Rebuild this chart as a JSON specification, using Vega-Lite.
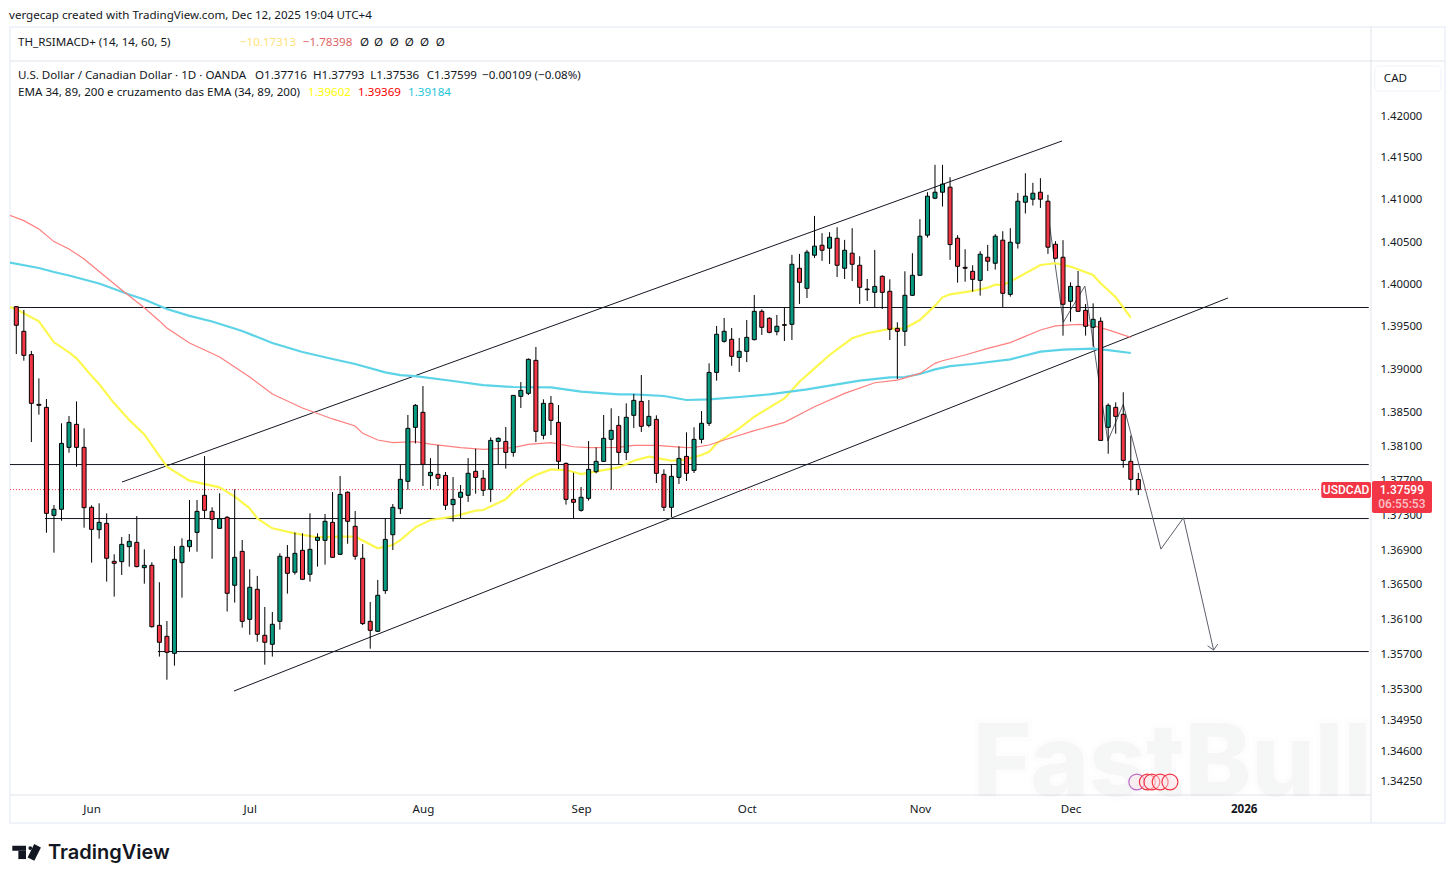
{
"$schema":"https://vega.github.io/schema/vega-lite/v6.json",
"autosize":"none","width":1361,"height":734,
"padding":{"left":10,"top":61,"right":84,"bottom":88},
"background":"#ffffff",
"title":{"text":"vergecap created with TradingView.com, Dec 12, 2025 19:04 UTC+4","anchor":"start","frame":"group","offset":4,"fontSize":11.6,"fontWeight":"normal","font":"Noto Sans","color":"#131722","dx":-1},
"config":{"view":{"stroke":null},"font":"Noto Sans"},
"datasets":{
"frame":[
{"part":"header","x0":-0.837,"x1":189.73,"y0":1.4266,"y1":1.4266},
{"part":"footer","x0":-0.837,"x1":179.9,"y0":1.34103,"y1":1.34103},
{"part":"scale","x0":179.9,"x1":179.9,"y0":1.33787,"y1":1.43069}
],
"outer":[{"x0":-0.837,"x1":189.73,"y0":1.33787,"y1":1.43069}],
"drawings":[
{"line":"upper","bar":14.04,"price":1.37687},{"line":"upper","bar":138.87,"price":1.41702},
{"line":"lower","bar":28.9,"price":1.35283},{"line":"lower","bar":160.9,"price":1.39839},
{"line":"h1","bar":-0.84,"price":1.39727},{"line":"h1","bar":179.6,"price":1.39727},
{"line":"h2","bar":-0.84,"price":1.3789},{"line":"h2","bar":179.6,"price":1.3789},
{"line":"h3","bar":3.8,"price":1.37264},{"line":"h3","bar":179.6,"price":1.37264},
{"line":"h4","bar":18.8,"price":1.35734},{"line":"h4","bar":179.6,"price":1.35734}
],
"forecast":[
{"line":"path","bar":137.05,"price":1.40801},{"line":"path","bar":139.04,"price":1.39553},{"line":"path","bar":141.9,"price":1.3998},{"line":"path","bar":144.95,"price":1.38164},{"line":"path","bar":147,"price":1.38592},{"line":"path","bar":152,"price":1.36911},{"line":"path","bar":155,"price":1.37273},{"line":"path","bar":159,"price":1.35751},
{"line":"head","bar":158.2,"price":1.358},{"line":"head","bar":159,"price":1.35751},{"line":"head","bar":159.55,"price":1.35819}
],
"last":[{"bar0":-0.84,"bar1":179.9,"price":1.37599}],
"ema":[
{"ema":"34","bar":-1,"price":1.39737},{"ema":"34","bar":0,"price":1.39706},{"ema":"34","bar":3,"price":1.39565},{"ema":"34","bar":5,"price":1.39318},{"ema":"34","bar":7,"price":1.392},{"ema":"34","bar":8,"price":1.39129},{"ema":"34","bar":10,"price":1.38922},{"ema":"34","bar":11,"price":1.38829},{"ema":"34","bar":13,"price":1.38603},{"ema":"34","bar":15,"price":1.38409},{"ema":"34","bar":17,"price":1.38241},{"ema":"34","bar":20,"price":1.37865},{"ema":"34","bar":23,"price":1.37703},{"ema":"34","bar":27,"price":1.37625},{"ema":"34","bar":29,"price":1.37517},{"ema":"34","bar":31,"price":1.37382},{"ema":"34","bar":32,"price":1.37266},{"ema":"34","bar":34,"price":1.37151},{"ema":"34","bar":37,"price":1.37093},{"ema":"34","bar":40,"price":1.37047},{"ema":"34","bar":43,"price":1.37054},{"ema":"34","bar":45,"price":1.37054},{"ema":"34","bar":48,"price":1.3692},{"ema":"34","bar":50,"price":1.36958},{"ema":"34","bar":51,"price":1.37015},{"ema":"34","bar":53,"price":1.37162},{"ema":"34","bar":55,"price":1.37247},{"ema":"34","bar":58,"price":1.37286},{"ema":"34","bar":61,"price":1.37355},{"ema":"34","bar":62,"price":1.37363},{"ema":"34","bar":65,"price":1.37486},{"ema":"34","bar":66,"price":1.37575},{"ema":"34","bar":68,"price":1.37718},{"ema":"34","bar":69,"price":1.37768},{"ema":"34","bar":71,"price":1.37834},{"ema":"34","bar":73,"price":1.37826},{"ema":"34","bar":75,"price":1.3778},{"ema":"34","bar":78,"price":1.37826},{"ema":"34","bar":80,"price":1.37857},{"ema":"34","bar":82,"price":1.37934},{"ema":"34","bar":84,"price":1.37981},{"ema":"34","bar":86,"price":1.3795},{"ema":"34","bar":87,"price":1.37934},{"ema":"34","bar":89,"price":1.3795},{"ema":"34","bar":91,"price":1.38},{"ema":"34","bar":92,"price":1.38039},{"ema":"34","bar":93,"price":1.38136},{"ema":"34","bar":96,"price":1.38311},{"ema":"34","bar":98,"price":1.38447},{"ema":"34","bar":102,"price":1.38661},{"ema":"34","bar":104,"price":1.38856},{"ema":"34","bar":106,"price":1.39012},{"ema":"34","bar":108,"price":1.39169},{"ema":"34","bar":111,"price":1.39365},{"ema":"34","bar":113,"price":1.39424},{"ema":"34","bar":116,"price":1.39475},{"ema":"34","bar":118,"price":1.39482},{"ema":"34","bar":120,"price":1.3958},{"ema":"34","bar":122,"price":1.39749},{"ema":"34","bar":123,"price":1.39847},{"ema":"34","bar":124,"price":1.39882},{"ema":"34","bar":127,"price":1.39922},{"ema":"34","bar":129,"price":1.39961},{"ema":"34","bar":130,"price":1.39996},{"ema":"34","bar":131,"price":1.39992},{"ema":"34","bar":132,"price":1.40032},{"ema":"34","bar":136,"price":1.40229},{"ema":"34","bar":138,"price":1.40249},{"ema":"34","bar":140,"price":1.4021},{"ema":"34","bar":143,"price":1.40111},{"ema":"34","bar":144,"price":1.40012},{"ema":"34","bar":146,"price":1.39847},{"ema":"34","bar":148,"price":1.39608},
{"ema":"89","bar":-1,"price":1.40821},{"ema":"89","bar":1,"price":1.40754},{"ema":"89","bar":3,"price":1.40655},{"ema":"89","bar":5,"price":1.40505},{"ema":"89","bar":7,"price":1.40418},{"ema":"89","bar":9,"price":1.403},{"ema":"89","bar":11,"price":1.40152},{"ema":"89","bar":14,"price":1.39933},{"ema":"89","bar":17,"price":1.39725},{"ema":"89","bar":19,"price":1.39569},{"ema":"89","bar":20,"price":1.39486},{"ema":"89","bar":23,"price":1.3931},{"ema":"89","bar":27,"price":1.39146},{"ema":"89","bar":31,"price":1.38911},{"ema":"89","bar":34,"price":1.38712},{"ema":"89","bar":38,"price":1.38549},{"ema":"89","bar":42,"price":1.38421},{"ema":"89","bar":45,"price":1.38339},{"ema":"89","bar":46,"price":1.38253},{"ema":"89","bar":48,"price":1.38175},{"ema":"89","bar":50,"price":1.38144},{"ema":"89","bar":53,"price":1.38156},{"ema":"89","bar":55,"price":1.38128},{"ema":"89","bar":59,"price":1.38086},{"ema":"89","bar":62,"price":1.38066},{"ema":"89","bar":66,"price":1.38086},{"ema":"89","bar":68,"price":1.38124},{"ema":"89","bar":71,"price":1.38144},{"ema":"89","bar":74,"price":1.38097},{"ema":"89","bar":76,"price":1.38086},{"ema":"89","bar":80,"price":1.38089},{"ema":"89","bar":82,"price":1.38113},{"ema":"89","bar":85,"price":1.38113},{"ema":"89","bar":89,"price":1.38086},{"ema":"89","bar":90,"price":1.38089},{"ema":"89","bar":92,"price":1.38117},{"ema":"89","bar":94,"price":1.38175},{"ema":"89","bar":98,"price":1.38284},{"ema":"89","bar":102,"price":1.38381},{"ema":"89","bar":106,"price":1.38564},{"ema":"89","bar":110,"price":1.3872},{"ema":"89","bar":114,"price":1.38844},{"ema":"89","bar":117,"price":1.38875},{"ema":"89","bar":120,"price":1.38953},{"ema":"89","bar":122,"price":1.39071},{"ema":"89","bar":123,"price":1.39102},{"ema":"89","bar":126,"price":1.39169},{"ema":"89","bar":129,"price":1.39247},{"ema":"89","bar":132,"price":1.39314},{"ema":"89","bar":136,"price":1.39463},{"ema":"89","bar":138,"price":1.3951},{"ema":"89","bar":141,"price":1.39529},{"ema":"89","bar":143,"price":1.39514},{"ema":"89","bar":145,"price":1.39463},{"ema":"89","bar":148,"price":1.39376},
{"ema":"200","bar":-1,"price":1.40258},{"ema":"200","bar":3,"price":1.40193},{"ema":"200","bar":5,"price":1.40146},{"ema":"200","bar":7,"price":1.40104},{"ema":"200","bar":11,"price":1.4001},{"ema":"200","bar":15,"price":1.3988},{"ema":"200","bar":17,"price":1.39821},{"ema":"200","bar":20,"price":1.3971},{"ema":"200","bar":23,"price":1.39628},{"ema":"200","bar":26,"price":1.39563},{"ema":"200","bar":30,"price":1.39451},{"ema":"200","bar":34,"price":1.3931},{"ema":"200","bar":38,"price":1.39204},{"ema":"200","bar":42,"price":1.39122},{"ema":"200","bar":45,"price":1.39063},{"ema":"200","bar":49,"price":1.38965},{"ema":"200","bar":51,"price":1.38934},{"ema":"200","bar":53,"price":1.38922},{"ema":"200","bar":58,"price":1.38864},{"ema":"200","bar":62,"price":1.38817},{"ema":"200","bar":66,"price":1.38794},{"ema":"200","bar":71,"price":1.3879},{"ema":"200","bar":75,"price":1.38739},{"ema":"200","bar":80,"price":1.38708},{"ema":"200","bar":82,"price":1.38708},{"ema":"200","bar":86,"price":1.38689},{"ema":"200","bar":89,"price":1.38642},{"ema":"200","bar":92,"price":1.3865},{"ema":"200","bar":96,"price":1.38677},{"ema":"200","bar":100,"price":1.38708},{"ema":"200","bar":105,"price":1.38767},{"ema":"200","bar":112,"price":1.38868},{"ema":"200","bar":116,"price":1.38907},{"ema":"200","bar":118,"price":1.38911},{"ema":"200","bar":120,"price":1.38946},{"ema":"200","bar":122,"price":1.39},{"ema":"200","bar":124,"price":1.39039},{"ema":"200","bar":127,"price":1.39063},{"ema":"200","bar":132,"price":1.39118},{"ema":"200","bar":136,"price":1.39208},{"ema":"200","bar":139,"price":1.39231},{"ema":"200","bar":143,"price":1.39243},{"ema":"200","bar":145,"price":1.39227},{"ema":"200","bar":148,"price":1.39192}
],
"candles":[
{"bar":0,"open":1.39737,"high":1.39745,"low":1.3918,"close":1.39518},
{"bar":1,"open":1.39447,"high":1.39698,"low":1.39102,"close":1.39165},
{"bar":2,"open":1.39173,"high":1.39216,"low":1.38152,"close":1.38603},
{"bar":3,"open":1.38591,"high":1.38895,"low":1.38471,"close":1.3858},
{"bar":4,"open":1.38556,"high":1.38654,"low":1.371,"close":1.37324},
{"bar":5,"open":1.37301,"high":1.37421,"low":1.3687,"close":1.37371},
{"bar":6,"open":1.37371,"high":1.3837,"low":1.37239,"close":1.38136},
{"bar":7,"open":1.3809,"high":1.38455,"low":1.38027,"close":1.38381},
{"bar":8,"open":1.38358,"high":1.38626,"low":1.37865,"close":1.3809},
{"bar":9,"open":1.3809,"high":1.38311,"low":1.37158,"close":1.3739},
{"bar":10,"open":1.37394,"high":1.37417,"low":1.36755,"close":1.37139},
{"bar":11,"open":1.37135,"high":1.3744,"low":1.37031,"close":1.3722},
{"bar":12,"open":1.37208,"high":1.37324,"low":1.36536,"close":1.36805},
{"bar":13,"open":1.3677,"high":1.36851,"low":1.36364,"close":1.36747},
{"bar":14,"open":1.36766,"high":1.3705,"low":1.36613,"close":1.36966},
{"bar":15,"open":1.36939,"high":1.37085,"low":1.36709,"close":1.37},
{"bar":16,"open":1.36989,"high":1.37293,"low":1.36701,"close":1.36709},
{"bar":17,"open":1.36697,"high":1.36908,"low":1.36513,"close":1.36724},
{"bar":18,"open":1.36724,"high":1.36759,"low":1.36008,"close":1.36019},
{"bar":19,"open":1.36034,"high":1.36529,"low":1.35676,"close":1.3584},
{"bar":20,"open":1.35908,"high":1.36084,"low":1.35412,"close":1.35725},
{"bar":21,"open":1.35714,"high":1.36946,"low":1.35573,"close":1.36793},
{"bar":22,"open":1.36755,"high":1.37035,"low":1.36352,"close":1.36943},
{"bar":23,"open":1.36939,"high":1.37479,"low":1.36881,"close":1.37012},
{"bar":24,"open":1.37104,"high":1.37479,"low":1.36881,"close":1.37347},
{"bar":25,"open":1.37533,"high":1.37988,"low":1.37266,"close":1.37359},
{"bar":26,"open":1.37347,"high":1.37394,"low":1.368,"close":1.37255},
{"bar":27,"open":1.37151,"high":1.37556,"low":1.37151,"close":1.37263},
{"bar":28,"open":1.37278,"high":1.37293,"low":1.36192,"close":1.36402},
{"bar":29,"open":1.36494,"high":1.37602,"low":1.36295,"close":1.36816},
{"bar":30,"open":1.36885,"high":1.37016,"low":1.36008,"close":1.3608},
{"bar":31,"open":1.36103,"high":1.36678,"low":1.35927,"close":1.36471},
{"bar":32,"open":1.36448,"high":1.36602,"low":1.35847,"close":1.35931},
{"bar":33,"open":1.3592,"high":1.36245,"low":1.35584,"close":1.3584},
{"bar":34,"open":1.35817,"high":1.36188,"low":1.35676,"close":1.36046},
{"bar":35,"open":1.3608,"high":1.36862,"low":1.35985,"close":1.36828},
{"bar":36,"open":1.36816,"high":1.36958,"low":1.36398,"close":1.36632},
{"bar":37,"open":1.36644,"high":1.37104,"low":1.36617,"close":1.36862},
{"bar":38,"open":1.36897,"high":1.37093,"low":1.36559,"close":1.36563},
{"bar":39,"open":1.36621,"high":1.37324,"low":1.36536,"close":1.36908},
{"bar":40,"open":1.37012,"high":1.37093,"low":1.36709,"close":1.37047},
{"bar":41,"open":1.37012,"high":1.37317,"low":1.36732,"close":1.37232},
{"bar":42,"open":1.3722,"high":1.37571,"low":1.36808,"close":1.36816},
{"bar":43,"open":1.36851,"high":1.37757,"low":1.36843,"close":1.37544},
{"bar":44,"open":1.37568,"high":1.37579,"low":1.36973,"close":1.37232},
{"bar":45,"open":1.37174,"high":1.37351,"low":1.36789,"close":1.36828},
{"bar":46,"open":1.36805,"high":1.36969,"low":1.36038,"close":1.36054},
{"bar":47,"open":1.3608,"high":1.36303,"low":1.35767,"close":1.35977},
{"bar":48,"open":1.35966,"high":1.36556,"low":1.35958,"close":1.36379},
{"bar":49,"open":1.36433,"high":1.37266,"low":1.36395,"close":1.37023},
{"bar":50,"open":1.37077,"high":1.37432,"low":1.369,"close":1.37394},
{"bar":51,"open":1.37378,"high":1.37892,"low":1.37317,"close":1.37718},
{"bar":52,"open":1.37695,"high":1.38467,"low":1.37598,"close":1.38311},
{"bar":53,"open":1.38323,"high":1.38595,"low":1.38136,"close":1.3858},
{"bar":54,"open":1.38498,"high":1.38805,"low":1.37641,"close":1.37892},
{"bar":55,"open":1.37761,"high":1.37965,"low":1.37602,"close":1.37799},
{"bar":56,"open":1.37776,"high":1.38117,"low":1.37641,"close":1.3773},
{"bar":57,"open":1.37764,"high":1.37803,"low":1.37363,"close":1.37417},
{"bar":58,"open":1.37425,"high":1.37745,"low":1.37228,"close":1.37486},
{"bar":59,"open":1.3751,"high":1.37653,"low":1.37266,"close":1.37568},
{"bar":60,"open":1.37533,"high":1.37965,"low":1.37456,"close":1.37788},
{"bar":61,"open":1.37811,"high":1.38074,"low":1.37552,"close":1.37741},
{"bar":62,"open":1.3773,"high":1.37826,"low":1.37525,"close":1.37591},
{"bar":63,"open":1.37602,"high":1.38206,"low":1.37456,"close":1.38171},
{"bar":64,"open":1.38159,"high":1.38206,"low":1.37892,"close":1.38195},
{"bar":65,"open":1.38159,"high":1.38327,"low":1.37842,"close":1.38031},
{"bar":66,"open":1.38031,"high":1.387,"low":1.37981,"close":1.38696},
{"bar":67,"open":1.38685,"high":1.38852,"low":1.38549,"close":1.38755},
{"bar":68,"open":1.3872,"high":1.39129,"low":1.387,"close":1.39118},
{"bar":69,"open":1.39106,"high":1.39263,"low":1.38152,"close":1.38276},
{"bar":70,"open":1.3823,"high":1.3865,"low":1.38183,"close":1.38603},
{"bar":71,"open":1.38603,"high":1.38689,"low":1.38233,"close":1.38405},
{"bar":72,"open":1.38381,"high":1.38584,"low":1.37838,"close":1.37927},
{"bar":73,"open":1.37903,"high":1.37915,"low":1.37425,"close":1.37486},
{"bar":74,"open":1.37486,"high":1.37795,"low":1.37266,"close":1.37452},
{"bar":75,"open":1.37359,"high":1.37629,"low":1.37344,"close":1.3751},
{"bar":76,"open":1.37498,"high":1.38163,"low":1.37471,"close":1.37834},
{"bar":77,"open":1.37807,"high":1.38089,"low":1.37788,"close":1.37927},
{"bar":78,"open":1.37927,"high":1.38467,"low":1.37923,"close":1.38195},
{"bar":79,"open":1.38183,"high":1.38545,"low":1.37598,"close":1.38288},
{"bar":80,"open":1.38346,"high":1.38455,"low":1.37892,"close":1.38031},
{"bar":81,"open":1.38031,"high":1.38603,"low":1.37942,"close":1.3844},
{"bar":82,"open":1.38463,"high":1.38712,"low":1.38315,"close":1.38638},
{"bar":83,"open":1.38626,"high":1.38934,"low":1.38269,"close":1.38335},
{"bar":84,"open":1.38346,"high":1.38642,"low":1.38323,"close":1.38451},
{"bar":85,"open":1.38416,"high":1.38463,"low":1.37676,"close":1.37788},
{"bar":86,"open":1.37776,"high":1.37834,"low":1.37351,"close":1.37394},
{"bar":87,"open":1.37394,"high":1.37892,"low":1.37282,"close":1.37753},
{"bar":88,"open":1.37741,"high":1.38101,"low":1.37664,"close":1.37961},
{"bar":89,"open":1.37985,"high":1.38265,"low":1.37699,"close":1.37788},
{"bar":90,"open":1.37822,"high":1.38323,"low":1.37792,"close":1.38183},
{"bar":91,"open":1.38183,"high":1.38513,"low":1.38136,"close":1.3837},
{"bar":92,"open":1.3837,"high":1.39071,"low":1.38339,"close":1.38965},
{"bar":93,"open":1.38965,"high":1.3951,"low":1.38868,"close":1.39412},
{"bar":94,"open":1.39329,"high":1.39604,"low":1.39314,"close":1.39447},
{"bar":95,"open":1.39353,"high":1.39486,"low":1.39043,"close":1.39153},
{"bar":96,"open":1.39141,"high":1.39369,"low":1.38969,"close":1.39212},
{"bar":97,"open":1.39212,"high":1.3958,"low":1.39086,"close":1.39376},
{"bar":98,"open":1.39349,"high":1.39875,"low":1.39341,"close":1.39682},
{"bar":99,"open":1.39682,"high":1.39706,"low":1.39404,"close":1.39494},
{"bar":100,"open":1.396,"high":1.39612,"low":1.39424,"close":1.39435},
{"bar":101,"open":1.39443,"high":1.39639,"low":1.394,"close":1.39506},
{"bar":102,"open":1.39525,"high":1.39729,"low":1.39333,"close":1.39518},
{"bar":103,"open":1.39529,"high":1.40348,"low":1.39345,"close":1.40237},
{"bar":104,"open":1.4019,"high":1.4036,"low":1.39769,"close":1.40024},
{"bar":105,"open":1.39953,"high":1.40407,"low":1.39839,"close":1.4038},
{"bar":106,"open":1.40344,"high":1.4081,"low":1.40312,"close":1.40451},
{"bar":107,"open":1.40462,"high":1.40605,"low":1.40277,"close":1.40403},
{"bar":108,"open":1.40427,"high":1.40617,"low":1.40241,"close":1.40557},
{"bar":109,"open":1.40545,"high":1.40676,"low":1.40087,"close":1.40225},
{"bar":110,"open":1.4019,"high":1.40526,"low":1.40063,"close":1.40403},
{"bar":111,"open":1.40368,"high":1.40664,"low":1.4004,"close":1.40237},
{"bar":112,"open":1.40225,"high":1.40332,"low":1.39769,"close":1.39965},
{"bar":113,"open":1.39945,"high":1.40063,"low":1.39804,"close":1.39937},
{"bar":114,"open":1.39906,"high":1.40407,"low":1.39729,"close":1.39976},
{"bar":115,"open":1.40095,"high":1.40107,"low":1.3971,"close":1.39906},
{"bar":116,"open":1.39918,"high":1.40059,"low":1.39345,"close":1.39471},
{"bar":117,"open":1.39482,"high":1.39553,"low":1.38887,"close":1.39447},
{"bar":118,"open":1.39447,"high":1.40154,"low":1.39275,"close":1.39871},
{"bar":119,"open":1.39871,"high":1.40368,"low":1.39863,"close":1.40107},
{"bar":120,"open":1.40107,"high":1.40771,"low":1.40103,"close":1.40569},
{"bar":121,"open":1.40581,"high":1.41091,"low":1.40553,"close":1.41044},
{"bar":122,"open":1.4102,"high":1.41417,"low":1.41008,"close":1.41091},
{"bar":123,"open":1.41091,"high":1.41417,"low":1.40921,"close":1.41187},
{"bar":124,"open":1.41151,"high":1.4127,"low":1.40289,"close":1.4047},
{"bar":125,"open":1.40545,"high":1.40581,"low":1.4002,"close":1.40213},
{"bar":126,"open":1.40201,"high":1.40415,"low":1.40031,"close":1.4019},
{"bar":127,"open":1.40154,"high":1.40225,"low":1.39914,"close":1.40059},
{"bar":128,"open":1.40047,"high":1.40391,"low":1.39867,"close":1.40356},
{"bar":129,"open":1.4032,"high":1.40466,"low":1.40158,"close":1.40273},
{"bar":130,"open":1.40249,"high":1.40593,"low":1.40174,"close":1.40569},
{"bar":131,"open":1.40522,"high":1.40628,"low":1.39733,"close":1.39894},
{"bar":132,"open":1.39882,"high":1.40664,"low":1.39855,"close":1.40498},
{"bar":133,"open":1.40486,"high":1.41083,"low":1.40423,"close":1.40984},
{"bar":134,"open":1.40972,"high":1.41317,"low":1.40838,"close":1.41044},
{"bar":135,"open":1.41008,"high":1.41203,"low":1.40933,"close":1.41079},
{"bar":136,"open":1.41091,"high":1.41258,"low":1.40905,"close":1.41008},
{"bar":137,"open":1.40984,"high":1.4106,"low":1.4036,"close":1.40439},
{"bar":138,"open":1.40474,"high":1.4051,"low":1.40296,"close":1.40308},
{"bar":139,"open":1.4032,"high":1.40522,"low":1.39396,"close":1.39765},
{"bar":140,"open":1.398,"high":1.40024,"low":1.39561,"close":1.39976},
{"bar":141,"open":1.39976,"high":1.40158,"low":1.39678,"close":1.39682},
{"bar":142,"open":1.39694,"high":1.39769,"low":1.39396,"close":1.39506},
{"bar":143,"open":1.39494,"high":1.39776,"low":1.39267,"close":1.39588},
{"bar":144,"open":1.39565,"high":1.39612,"low":1.38167,"close":1.38171},
{"bar":145,"open":1.38323,"high":1.38603,"low":1.38016,"close":1.3858},
{"bar":146,"open":1.38556,"high":1.38615,"low":1.38249,"close":1.38451},
{"bar":147,"open":1.38475,"high":1.38732,"low":1.37853,"close":1.37938},
{"bar":148,"open":1.37927,"high":1.38226,"low":1.37587,"close":1.37718},
{"bar":149,"open":1.37716,"high":1.37793,"low":1.37536,"close":1.37599}
],
"notes":[
{"text":"TH_RSIMACD+ (14, 14, 60, 5)","series":"ink","bar":0.23,"price":1.42888},
{"text":"−10.17313","series":"rsi","bar":29.7,"price":1.42888},
{"text":"−1.78398","series":"macd","bar":38.05,"price":1.42888},
{"text":"Ø","series":"ink","bar":45.64,"price":1.42888},
{"text":"Ø","series":"ink","bar":47.5,"price":1.42888},
{"text":"Ø","series":"ink","bar":49.6,"price":1.42888},
{"text":"Ø","series":"ink","bar":51.6,"price":1.42888},
{"text":"Ø","series":"ink","bar":53.6,"price":1.42888},
{"text":"Ø","series":"ink","bar":55.7,"price":1.42888},
{"text":"U.S. Dollar / Canadian Dollar · 1D · OANDA","series":"ink","bar":0.23,"price":1.42491},
{"text":"O1.37716","series":"ink","bar":31.7,"price":1.42491},
{"text":"H1.37793","series":"ink","bar":39.4,"price":1.42491},
{"text":"L1.37536","series":"ink","bar":47,"price":1.42491},
{"text":"C1.37599","series":"ink","bar":54.5,"price":1.42491},
{"text":"−0.00109 (−0.08%)","series":"ink","bar":61.85,"price":1.42491},
{"text":"EMA 34, 89, 200 e cruzamento das EMA (34, 89, 200)","series":"ink","bar":0.23,"price":1.42288},
{"text":"1.39602","series":"ema34","bar":38.74,"price":1.42288},
{"text":"1.39369","series":"ema89","bar":45.38,"price":1.42288},
{"text":"1.39184","series":"ema200","bar":52.02,"price":1.42288},
{"text":"CAD","series":"ink","bar":181.6,"price":1.42455}
],
"tags":[{"x0":173.3,"x1":179.9,"y0":1.37502,"y1":1.37687},{"x0":180.03,"x1":188,"y0":1.37328,"y1":1.37698}],
"tagText":[
{"text":"USDCAD","shade":"main","bar":176.6,"price":1.37599},
{"text":"1.37599","shade":"main","bar":184,"price":1.37599},
{"text":"06:55:53","shade":"dim","bar":184,"price":1.37436}
],
"button":[{"x0":180.4,"x1":189.2,"y0":1.42299,"y1":1.426}],
"logoBars":[{"x0":-0.53,"x1":1.29,"y0":1.33475,"y1":1.33531},{"x0":0.27,"x1":1.29,"y0":1.33381,"y1":1.33475}],
"logoSlash":[{"x0":2.82,"x1":1.95,"y0":1.33531,"y1":1.33381}],
"logoDot":[{"bar":1.85,"price":1.33505}],
"logoText":[{"text":"TradingView","bar":4.2,"price":1.33449}],
"mark":[{"text":"FastBull","bar":153.5,"price":1.34431}],
"flags":[
{"currency":"USD","bar":148.8,"price":1.3425},
{"currency":"CAD","bar":150.2,"price":1.3425},
{"currency":"CAD","bar":150.8,"price":1.3425},
{"currency":"CAD","bar":151.9,"price":1.3425},
{"currency":"CAD","bar":153.2,"price":1.3425}
]
},
"layer":[
{"data":{"name":"outer"},"mark":{"type":"rect","fillOpacity":0,"stroke":"#f0f3fa","strokeWidth":2},
 "encoding":{
  "x":{"field":"x0","type":"quantitative","scale":{"domain":[-0.837,179.9],"nice":false,"zero":false,"padding":0},
   "axis":{"title":null,"values":[10,31,54,75,97,120,140,163],"labelExpr":"{'10':'Jun','31':'Jul','54':'Aug','75':'Sep','97':'Oct','120':'Nov','140':'Dec','163':'2026'}[datum.value]","grid":false,"ticks":false,"domain":false,"labelFontSize":11.6,"labelColor":"#131722","labelPadding":8,"labelFontWeight":{"condition":{"test":"datum.value==163","value":"bold"},"value":"normal"}}},
  "x2":{"field":"x1"},
  "y":{"field":"y0","type":"quantitative","scale":{"type":"log","base":10,"domain":[1.34103,1.4266],"nice":false,"zero":false},
   "axis":{"title":null,"orient":"right","values":[1.42,1.415,1.41,1.405,1.4,1.395,1.39,1.385,1.381,1.377,1.373,1.369,1.365,1.361,1.357,1.353,1.3495,1.346,1.3425],"format":".5f","grid":false,"ticks":false,"domain":false,"labelFontSize":11.3,"labelColor":"#131722","labelPadding":9}},
  "y2":{"field":"y1"}}},
{"data":{"name":"frame"},"mark":{"type":"rule","color":"#e0e3eb","strokeWidth":1},
 "encoding":{"x":{"field":"x0","type":"quantitative","axis":null},"x2":{"field":"x1"},"y":{"field":"y0","type":"quantitative","axis":null},"y2":{"field":"y1"}}},
{"data":{"name":"drawings"},"mark":{"type":"line","color":"#131722","strokeWidth":1,"clip":true},
 "encoding":{"x":{"field":"bar","type":"quantitative","axis":null},"y":{"field":"price","type":"quantitative","axis":null},"detail":{"field":"line"}}},
{"data":{"name":"forecast"},"mark":{"type":"line","color":"#5d606b","strokeWidth":1,"clip":true},
 "encoding":{"x":{"field":"bar","type":"quantitative","axis":null},"y":{"field":"price","type":"quantitative","axis":null},"detail":{"field":"line"}}},
{"data":{"name":"last"},"mark":{"type":"rule","color":"#f23645","strokeWidth":1,"strokeDash":[1,2]},
 "encoding":{"x":{"field":"bar0","type":"quantitative","axis":null},"x2":{"field":"bar1"},"y":{"field":"price","type":"quantitative","axis":null}}},
{"data":{"name":"ema"},"transform":[{"filter":"datum.ema!='89'"}],"mark":{"type":"line","strokeWidth":2.2,"clip":true},
 "encoding":{"x":{"field":"bar","type":"quantitative","axis":null},"y":{"field":"price","type":"quantitative","axis":null},
  "stroke":{"field":"ema","type":"nominal","legend":null,"scale":{"domain":["34","200"],"range":["#fdf84e","#5cd3e6"]}}}},
{"data":{"name":"ema"},"transform":[{"filter":"datum.ema=='89'"}],"mark":{"type":"line","strokeWidth":1.2,"color":"#ff7f7f","clip":true},
 "encoding":{"x":{"field":"bar","type":"quantitative","axis":null},"y":{"field":"price","type":"quantitative","axis":null}}},
{"data":{"name":"candles"},"mark":{"type":"rule","color":"#000000","strokeWidth":1},
 "encoding":{"x":{"field":"bar","type":"quantitative","axis":null},"y":{"field":"low","type":"quantitative","axis":null},"y2":{"field":"high"}}},
{"data":{"name":"candles"},"mark":{"type":"bar","size":4,"stroke":"#000000","strokeWidth":1},
 "encoding":{"x":{"field":"bar","type":"quantitative","axis":null},"y":{"field":"open","type":"quantitative","axis":null},"y2":{"field":"close"},
  "fill":{"condition":{"test":"datum.close>=datum.open","value":"#089981"},"value":"#f23645"}}},
{"data":{"name":"mark"},"mark":{"type":"text","font":"Inter","fontWeight":800,"fontSize":100,"color":"#c8c9ce","opacity":0.16,"stroke":"#d8d9de","strokeWidth":8,"strokeOpacity":0.2,"baseline":"middle","align":"center"},
 "encoding":{"x":{"field":"bar","type":"quantitative","axis":null},"y":{"field":"price","type":"quantitative","axis":null},"text":{"field":"text"}}},
{"data":{"name":"flags"},"mark":{"type":"point","filled":true,"fillOpacity":0.45,"size":254,"strokeWidth":1.2,"fill":"#fde3e6"},
 "encoding":{"x":{"field":"bar","type":"quantitative","axis":null},"y":{"field":"price","type":"quantitative","axis":null},
  "stroke":{"field":"currency","type":"nominal","legend":null,"scale":{"domain":["USD","CAD"],"range":["#ba68c8","#f23645"]}}}},
{"data":{"name":"tags"},"mark":{"type":"rect","color":"#f23645","cornerRadius":2},
 "encoding":{"x":{"field":"x0","type":"quantitative","axis":null},"x2":{"field":"x1"},"y":{"field":"y0","type":"quantitative","axis":null},"y2":{"field":"y1"}}},
{"data":{"name":"tagText"},"mark":{"type":"text","font":"Roboto","fontSize":12,"fontWeight":500,"baseline":"middle","align":"center"},
 "encoding":{"x":{"field":"bar","type":"quantitative","axis":null},"y":{"field":"price","type":"quantitative","axis":null},"text":{"field":"text"},
  "fill":{"field":"shade","type":"nominal","legend":null,"scale":{"domain":["main","dim"],"range":["#ffffff","#fbc2c8"]}}}},
{"data":{"name":"button"},"mark":{"type":"rect","fillOpacity":0,"stroke":"#f0f3fa","strokeWidth":1,"cornerRadius":4},
 "encoding":{"x":{"field":"x0","type":"quantitative","axis":null},"x2":{"field":"x1"},"y":{"field":"y0","type":"quantitative","axis":null},"y2":{"field":"y1"}}},
{"data":{"name":"notes"},"mark":{"type":"text","fontSize":11.6,"align":"left","baseline":"middle","dy":1},
 "encoding":{"x":{"field":"bar","type":"quantitative","axis":null},"y":{"field":"price","type":"quantitative","axis":null},"text":{"field":"text"},
  "fill":{"field":"series","type":"nominal","legend":null,"scale":{"domain":["ink","rsi","macd","ema34","ema89","ema200"],"range":["#131722","#ffe27a","#e06666","#ffff00","#ff0000","#26c6da"]}}}},
{"data":{"name":"logoBars"},"mark":{"type":"rect","color":"#131722"},
 "encoding":{"x":{"field":"x0","type":"quantitative","axis":null},"x2":{"field":"x1"},"y":{"field":"y0","type":"quantitative","axis":null},"y2":{"field":"y1"}}},
{"data":{"name":"logoSlash"},"mark":{"type":"rule","color":"#131722","strokeWidth":7.5},
 "encoding":{"x":{"field":"x0","type":"quantitative","axis":null},"x2":{"field":"x1"},"y":{"field":"y0","type":"quantitative","axis":null},"y2":{"field":"y1"}}},
{"data":{"name":"logoDot"},"mark":{"type":"circle","color":"#131722","size":14,"opacity":1},
 "encoding":{"x":{"field":"bar","type":"quantitative","axis":null},"y":{"field":"price","type":"quantitative","axis":null}}},
{"data":{"name":"logoText"},"mark":{"type":"text","font":"Inter","fontSize":20,"fontWeight":600,"color":"#131722","align":"left","baseline":"middle"},
 "encoding":{"x":{"field":"bar","type":"quantitative","axis":null},"y":{"field":"price","type":"quantitative","axis":null},"text":{"field":"text"}}}
],
"resolve":{"scale":{"fill":"independent","stroke":"independent"},"axis":{"x":"independent","y":"independent"}}
}
